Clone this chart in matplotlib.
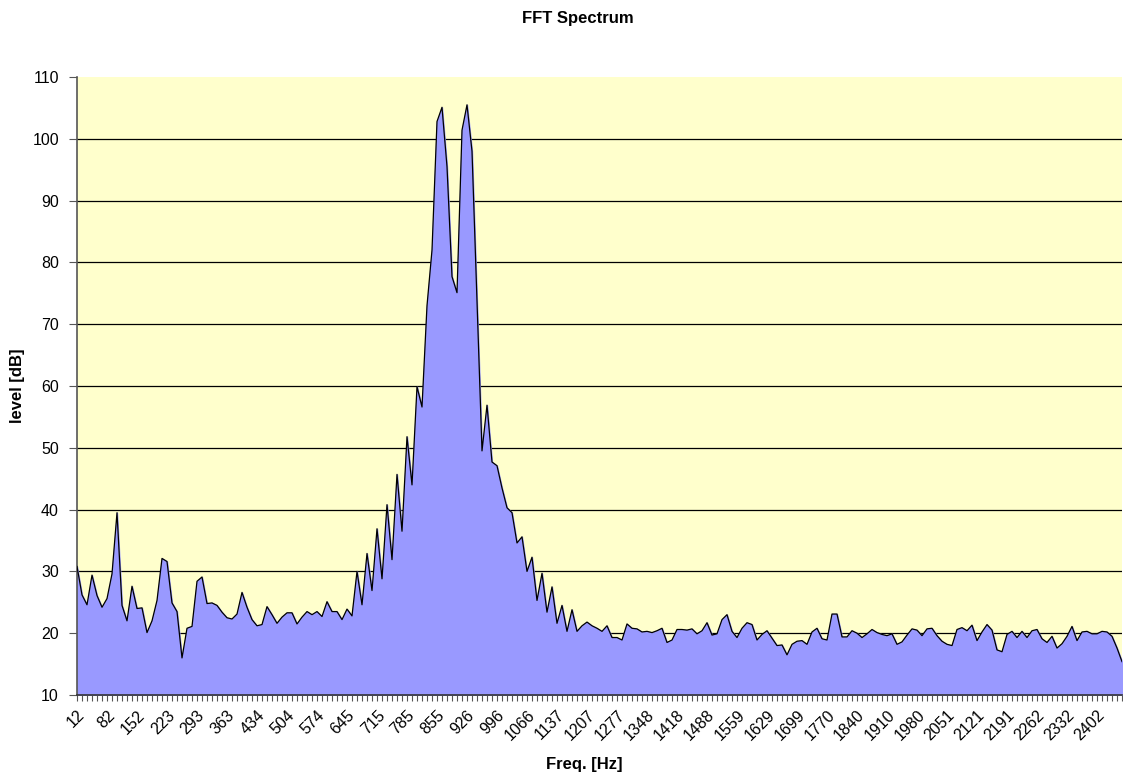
import numpy as np
import matplotlib.pyplot as plt

plt.rcParams['font.family'] = ['Liberation Sans', 'DejaVu Sans']

# x-axis labels shown every 6th FFT bin
tick_labels = ["12", "82", "152", "223", "293", "363", "434", "504", "574", "645",
               "715", "785", "855", "926", "996", "1066", "1137", "1207", "1277", "1348",
               "1418", "1488", "1559", "1629", "1699", "1770", "1840", "1910", "1980", "2051",
               "2121", "2191", "2262", "2332", "2402"]

# level [dB] per bin
level = [
    30.8, 26.2, 24.6, 29.4, 26.1, 24.2, 25.6, 29.6, 39.5, 24.5,
    22.0, 27.6, 24.0, 24.1, 20.1, 22.0, 25.3, 32.1, 31.6, 24.9,
    23.5, 16.0, 20.8, 21.1, 28.4, 29.1, 24.8, 24.9, 24.5, 23.4,
    22.5, 22.3, 23.1, 26.6, 24.2, 22.2, 21.2, 21.4, 24.3, 23.0,
    21.6, 22.6, 23.3, 23.3, 21.5, 22.6, 23.5, 23.0, 23.5, 22.7,
    25.1, 23.5, 23.5, 22.2, 23.9, 22.8, 30.0, 24.6, 32.9, 26.9,
    36.9, 28.8, 40.8, 31.9, 45.7, 36.5, 51.8, 44.0, 59.9, 56.6,
    73.0, 82.0, 102.8, 105.1, 95.5, 77.7, 75.1, 101.4, 105.5, 98.0,
    73.5, 49.5, 56.9, 47.7, 47.1, 43.5, 40.3, 39.5, 34.6, 35.6,
    30.0, 32.3, 25.3, 29.7, 23.4, 27.5, 21.6, 24.5, 20.3, 23.8,
    20.3, 21.2, 21.8, 21.2, 20.8, 20.3, 21.2, 19.3, 19.3, 18.9,
    21.5, 20.8, 20.7, 20.2, 20.3, 20.1, 20.4, 20.8, 18.5, 18.9,
    20.6, 20.6, 20.5, 20.7, 19.9, 20.4, 21.7, 19.7, 19.9, 22.2,
    23.0, 20.3, 19.3, 20.8, 21.7, 21.4, 18.9, 19.8, 20.4, 19.2,
    18.0, 18.1, 16.5, 18.2, 18.7, 18.8, 18.2, 20.2, 20.8, 19.1,
    18.9, 23.1, 23.1, 19.4, 19.4, 20.4, 20.0, 19.3, 19.9, 20.6,
    20.1, 19.8, 19.6, 19.9, 18.2, 18.6, 19.7, 20.7, 20.5, 19.6,
    20.7, 20.8, 19.6, 18.7, 18.2, 18.0, 20.6, 20.9, 20.4, 21.3,
    18.8, 20.2, 21.4, 20.5, 17.3, 17.0, 19.8, 20.3, 19.3, 20.3,
    19.3, 20.4, 20.6, 19.1, 18.5, 19.5, 17.6, 18.3, 19.5, 21.1,
    18.8, 20.2, 20.3, 19.9, 19.9, 20.3, 20.2, 19.5, 17.6, 15.4,
]

x = np.arange(len(level))

fig = plt.figure(figsize=(11.23, 7.76), dpi=100)
ax = fig.add_axes([77 / 1123, 1 - 695 / 776, 1045 / 1123, 618 / 776])
ax.set_facecolor('#FFFFCC')

ax.fill_between(x, 10, level, color='#9999FF', zorder=2)
ax.plot(x, level, color='black', lw=0.9, zorder=3)

ax.set_xlim(0, len(level) - 1)
ax.set_ylim(10, 110)
ax.set_yticks(np.arange(10, 111, 10))
ax.yaxis.grid(True, color='black', lw=0.9)
ax.get_ygridlines()[-1].set_visible(False)
ax.set_axisbelow(True)

ax.set_xticks(x[::6][:len(tick_labels)])
ax.set_xticklabels(tick_labels, rotation=45, ha='right', rotation_mode='anchor')
ax.set_xticks(x, minor=True)
ax.tick_params(axis='x', which='both', length=4, width=0.8, colors='#555555',
               labelcolor='black', labelsize=11.5, pad=5)
ax.tick_params(axis='y', length=6, width=0.8, colors='#555555',
               labelcolor='black', labelsize=11.5, pad=7)

for s in ['top', 'right']:
    ax.spines[s].set_visible(False)
ax.spines['left'].set_color('#555555')
ax.spines['bottom'].set_color('#333333')
ax.spines['left'].set_linewidth(1.2)
ax.spines['bottom'].set_linewidth(1.2)

fig.text(584 / 1123, 1 - 765 / 776, 'Freq. [Hz]', ha='center', va='center',
         fontsize=12, fontweight='bold')
fig.text(18 / 1123, 1 - 386 / 776, 'level [dB]', ha='center', va='center',
         rotation=90, fontsize=12, fontweight='bold')
fig.text(578 / 1123, 1 - 18 / 776, 'FFT Spectrum', ha='center', va='center',
         fontsize=12, fontweight='bold')

fig.savefig('out.png', dpi=100)
